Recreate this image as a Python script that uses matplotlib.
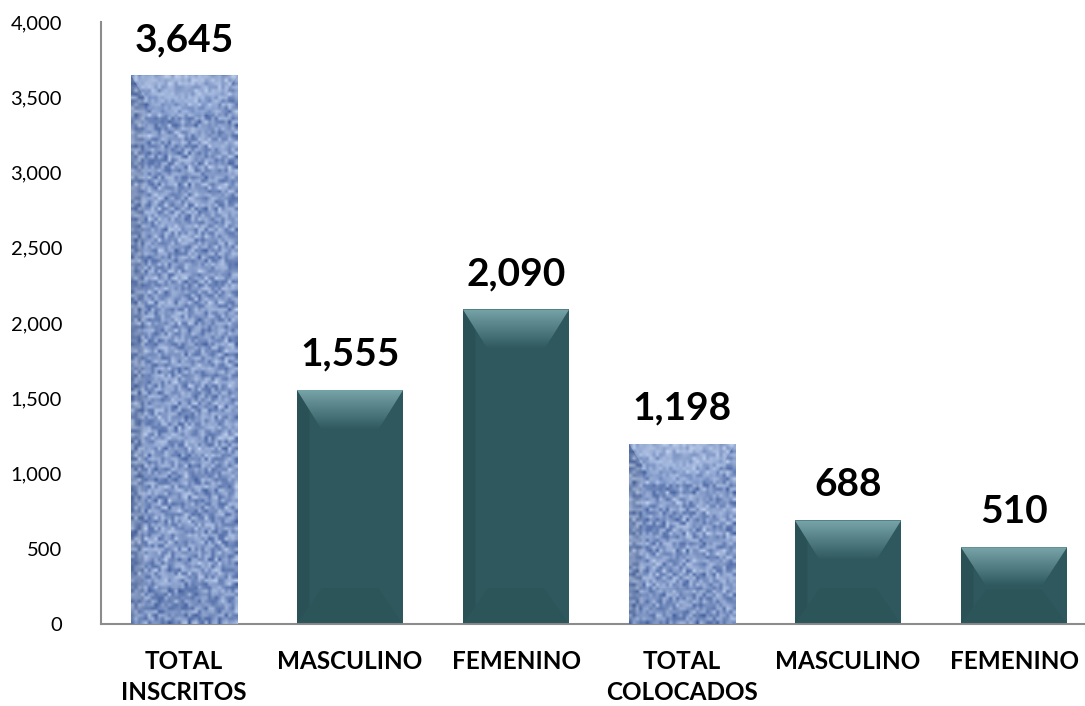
import numpy as np
import matplotlib
matplotlib.use("Agg")
import matplotlib.pyplot as plt
from matplotlib.patches import Polygon
from matplotlib.ticker import FuncFormatter

categories = ["TOTAL\nINSCRITOS", "MASCULINO", "FEMENINO",
              "TOTAL\nCOLOCADOS", "MASCULINO", "FEMENINO"]
values = [3645, 1555, 2090, 1198, 688, 510]
is_total = [True, False, False, True, False, False]

TEAL = "#2e585d"
TEAL_LIGHT = "#78a5aa"
BLUE = "#7a97cc"

plt.rcParams["font.family"] = ["Lato", "DejaVu Sans"]

fig = plt.figure(figsize=(10.85, 7.06), dpi=100)
ax = fig.add_axes([101 / 1085, 82 / 706, 996 / 1085, 602 / 706])

x = np.arange(len(values))
width = 0.64
bars = ax.bar(x, values, width=width, color=TEAL, zorder=2, linewidth=0)


def weave_texture(h, w):
    # deterministic woven look (denim-ish) built from sines + hash noise
    yy, xx = np.mgrid[0:h, 0:w].astype(float)
    weave = 0.5 + 0.3 * np.sin(xx * 2 * np.pi / 3.0) * np.sin(yy * 2 * np.pi / 3.0)
    n = np.sin(xx * 12.9898 + yy * 78.233) * 43758.5453
    n = n - np.floor(n)
    v = np.clip(0.5 * weave + 0.6 * n - 0.05, 0, 1)
    dark = np.array([0.20, 0.32, 0.58])
    light = np.array([0.82, 0.88, 0.98])
    return dark[None, None, :] * (1 - v[..., None]) + light[None, None, :] * v[..., None]


px_x = 996 / 6.0          # pixels per x unit
px_y = 602 / 4000.0       # pixels per y unit

for b, total in zip(bars, is_total):
    x0, w, h = b.get_x(), b.get_width(), b.get_height()
    x1 = x0 + w
    if total:
        b.set_facecolor(BLUE)
        tex = weave_texture(int(h * px_y / 3.5) + 2, int(w * px_x / 3.5) + 2)
        im = ax.imshow(tex, extent=[x0, x1, 0, h], aspect="auto",
                       interpolation="bilinear", zorder=3)
        im.set_clip_path(b)
    # bevel
    dx = 25 / px_x
    dy = min(40 / px_y, h / 2)
    top = Polygon([(x0, h), (x1, h), (x1 - dx, h - dy), (x0 + dx, h - dy)],
                  closed=True, transform=ax.transData)
    grad = np.linspace(1, 0, 50)[:, None]
    if total:
        c_top = np.array([0.85, 0.90, 0.98])
        c_bot = np.array([0.55, 0.66, 0.85])
        alpha = 0.35
    else:
        c_top = np.array(matplotlib.colors.to_rgb(TEAL_LIGHT))
        c_bot = np.array(matplotlib.colors.to_rgb(TEAL))
        alpha = 1.0
    g = c_bot[None, None, :] * (1 - grad[..., None]) + c_top[None, None, :] * grad[..., None]
    g = np.repeat(g, 2, axis=1)
    gi = ax.imshow(g, extent=[x0, x1, h - dy, h], aspect="auto",
                   interpolation="bilinear", zorder=4, alpha=alpha)
    gi.set_clip_path(top)
    # bottom bevel (subtle)
    dyb = min(40 / px_y, h / 2) * 0.9
    bot = Polygon([(x0, 0), (x1, 0), (x1 - dx, dyb), (x0 + dx, dyb)], closed=True,
                  facecolor="#1f3f43" if not total else "#2a4a86",
                  alpha=0.10, linewidth=0, zorder=4)
    ax.add_patch(bot)
    # left edge shade
    ax.add_patch(Polygon([(x0, 0), (x0 + dx * 0.5, dyb * 0.5), (x0 + dx * 0.5, h - dy * 0.5), (x0, h)],
                         closed=True, facecolor="black", alpha=0.07, linewidth=0, zorder=4))
    ax.text(b.get_x() + w / 2, h + 120, f"{h:,.0f}", ha="center", va="bottom",
            fontsize=28, fontweight="bold", color="black", zorder=5)

ax.set_xlim(-0.5, 5.5)
ax.set_ylim(0, 4000)
ax.set_yticks(np.arange(0, 4001, 500))
ax.yaxis.set_major_formatter(FuncFormatter(lambda v, p: f"{v:,.0f}"))
ax.set_xticks(x)
ax.set_xticklabels(categories, fontsize=17.5, fontweight="bold", linespacing=1.42)
ax.tick_params(axis="y", length=0, pad=28, labelsize=14.5)
ax.tick_params(axis="x", length=0, pad=19)

for s in ["top", "right"]:
    ax.spines[s].set_visible(False)
for s in ["left", "bottom"]:
    ax.spines[s].set_color("#8c8c8c")
    ax.spines[s].set_linewidth(1.5)

fig.savefig("out.png", dpi=100)
